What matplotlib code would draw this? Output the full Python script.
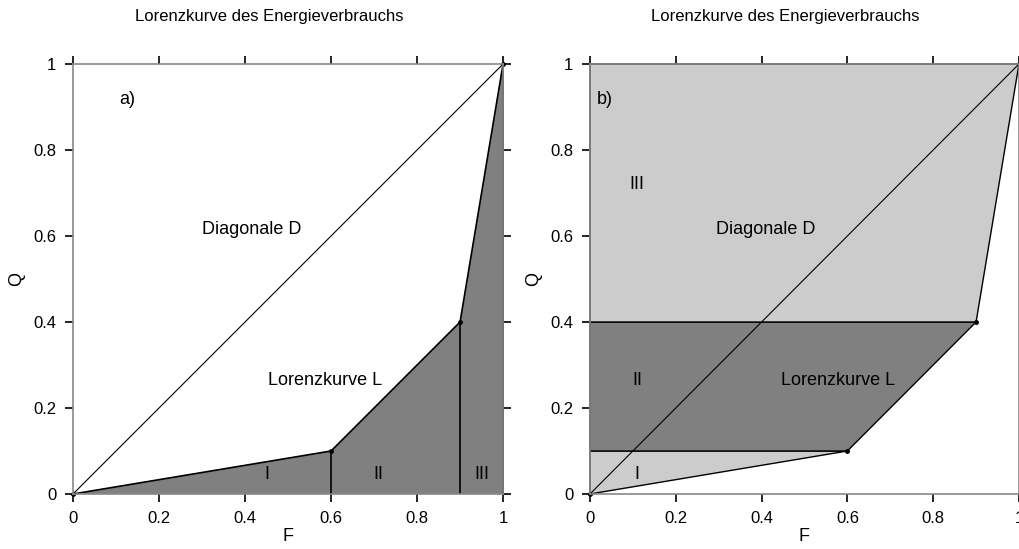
import matplotlib
matplotlib.use("Agg")
import matplotlib.pyplot as plt
from matplotlib.patches import Polygon

plt.rcParams["font.family"] = ["Liberation Sans", "DejaVu Sans"]

# Lorenzkurve: kumulierte Anteile
F = [0, 0.6, 0.9, 1]
Q = [0, 0.1, 0.4, 1]
ticks = [0, 0.2, 0.4, 0.6, 0.8, 1]
tick_labels = ["0", "0.2", "0.4", "0.6", "0.8", "1"]
titel = "Lorenzkurve des Energieverbrauchs"

dunkel = "#808080"
hell = "#cccccc"

fig = plt.figure(figsize=(10.2, 5.49), dpi=100)
ax_a = fig.add_axes([0.0716, 0.1002, 0.4216, 0.7832])
ax_b = fig.add_axes([0.5784, 0.1002, 0.4206, 0.7832])


def setup(ax):
    ax.set_xlim(0, 1)
    ax.set_ylim(0, 1)
    ax.set_xticks(ticks)
    ax.set_yticks(ticks)
    ax.set_xticklabels(tick_labels)
    ax.set_yticklabels(tick_labels)
    ax.tick_params(direction="out", length=6, width=1.2, color="black",
                   labelsize=12, top=True, right=True, pad=6)
    for s in ax.spines.values():
        s.set_color("#888888")
        s.set_linewidth(1.2)
    ax.set_xlabel("F", fontsize=13, labelpad=2)
    ax.set_ylabel("Q", fontsize=13, labelpad=6)
    ax.set_title(titel, fontsize=12, x=0.456, y=1.0, pad=31)


# a) Fläche unter der Lorenzkurve
setup(ax_a)
pts_a = list(zip(F, Q)) + [(1, 0)]
ax_a.add_patch(Polygon(pts_a, closed=True, facecolor=dunkel, edgecolor="none"))
ax_a.plot(F, Q, color="black", lw=1.2, clip_on=False)
ax_a.plot([0, 1], [0, 1], color="black", lw=0.8, clip_on=False)
ax_a.plot([F[1], F[1]], [0, Q[1]], color="black", lw=1.2)
ax_a.plot([F[2], F[2]], [0, Q[2]], color="black", lw=1.2)
ax_a.plot([1, 1], [0, 1], color="black", lw=1.2, clip_on=False)
ax_a.plot(F, Q, "o", color="black", ms=2.5, clip_on=False)
ax_a.text(0.45, 0.045, "I", fontsize=13, ha="center", va="center")
ax_a.text(0.71, 0.045, "II", fontsize=13, ha="center", va="center")
ax_a.text(0.95, 0.045, "III", fontsize=13, ha="center", va="center")
ax_a.text(0.125, 0.918, "a)", fontsize=13, ha="center", va="center")
ax_a.text(0.416, 0.614, "Diagonale D", fontsize=13, ha="center", va="center")
ax_a.text(0.585, 0.263, "Lorenzkurve L", fontsize=13, ha="center", va="center")

# b) Flächen links der Lorenzkurve
setup(ax_b)
reg_I = [(0, Q[0]), (F[1], Q[1]), (0, Q[1])]
reg_II = [(0, Q[1]), (F[1], Q[1]), (F[2], Q[2]), (0, Q[2])]
reg_III = [(0, Q[2]), (F[2], Q[2]), (F[3], Q[3]), (0, Q[3])]
for reg, col in [(reg_I, hell), (reg_II, dunkel), (reg_III, hell)]:
    ax_b.add_patch(Polygon(reg, closed=True, facecolor=col, edgecolor="black",
                           lw=1.0, clip_on=False))
ax_b.plot([0, 1], [0, 1], color="black", lw=0.8, clip_on=False)
ax_b.plot(F, Q, "o", color="black", ms=2.5, clip_on=False)
ax_b.text(0.11, 0.045, "I", fontsize=13, ha="center", va="center")
ax_b.text(0.11, 0.265, "II", fontsize=13, ha="center", va="center")
ax_b.text(0.11, 0.72, "III", fontsize=13, ha="center", va="center")
ax_b.text(0.035, 0.918, "b)", fontsize=13, ha="center", va="center")
ax_b.text(0.41, 0.614, "Diagonale D", fontsize=13, ha="center", va="center")
ax_b.text(0.578, 0.263, "Lorenzkurve L", fontsize=13, ha="center", va="center")

fig.savefig("out.png", dpi=100)
